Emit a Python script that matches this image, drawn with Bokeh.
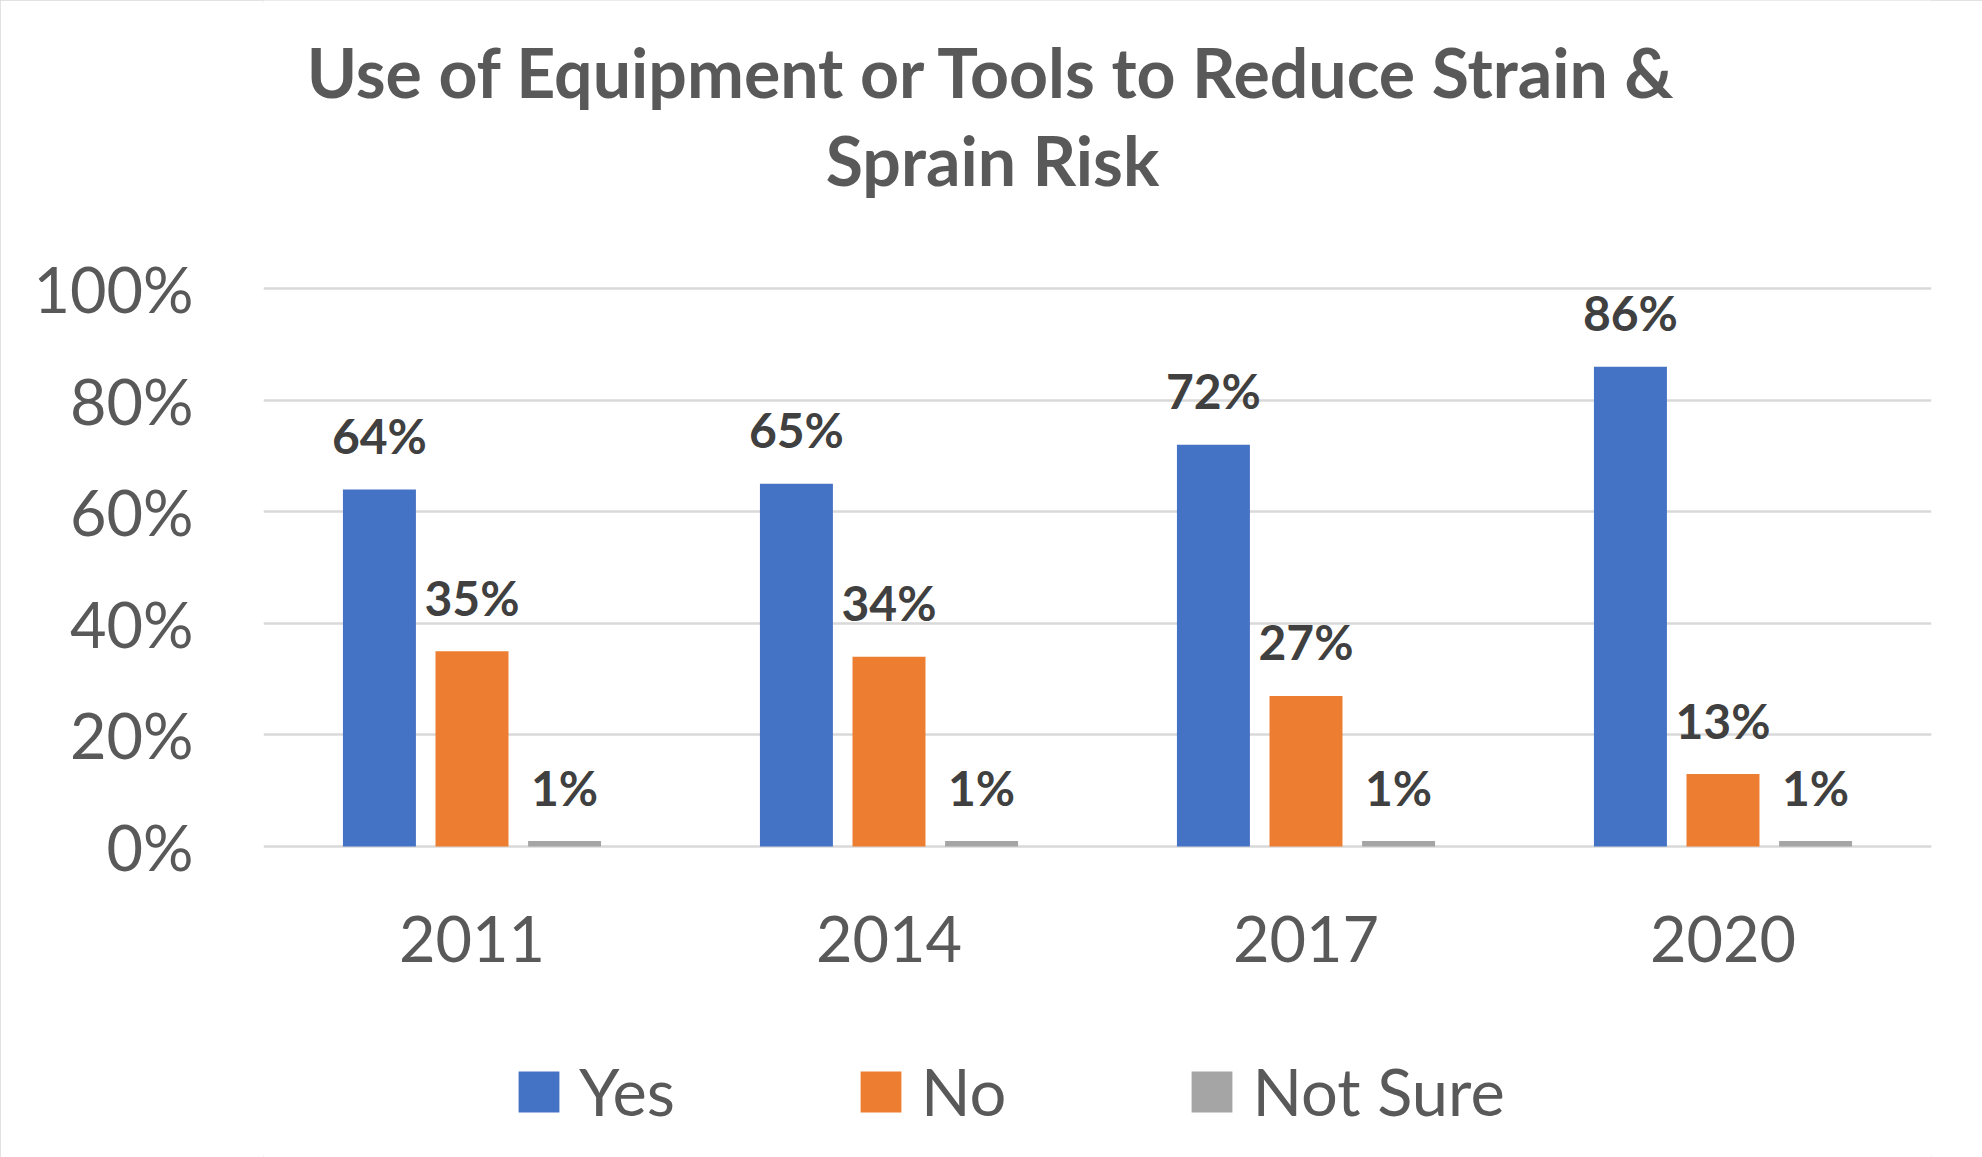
from bokeh.plotting import figure
from bokeh.models import (ColumnDataSource, FactorRange, Range1d, FixedTicker,
                          NumeralTickFormatter, Legend, LegendItem, Label)
from bokeh.transform import dodge
from bokeh.core.properties import value
from bokeh.embed import file_html
from bokeh.resources import INLINE

# ---- data ----
years = ["2011", "2014", "2017", "2020"]
yes_pct = [64, 65, 72, 86]
no_pct = [35, 34, 27, 13]
not_sure_pct = [1, 1, 1, 1]
series_names = ["Yes", "No", "Not Sure"]
series_colors = ["#4472C4", "#ED7D31", "#A5A5A5"]
y_ticks = [0, 0.2, 0.4, 0.6, 0.8, 1.0]
title_lines = ["Use of Equipment or Tools to Reduce Strain &", "Sprain Risk"]

FONT = "Lato"
TEXT = "#595959"
LABEL = "#404040"

src = ColumnDataSource(dict(
    year=years,
    yes=[v / 100 for v in yes_pct],
    no=[v / 100 for v in no_pct],
    ns=[v / 100 for v in not_sure_pct],
    yes_lbl=[f"{v}%" for v in yes_pct],
    no_lbl=[f"{v}%" for v in no_pct],
    ns_lbl=[f"{v}%" for v in not_sure_pct],
))

p = figure(width=1982, height=1157, x_range=FactorRange(*years, range_padding=0),
           y_range=Range1d(-0.557, 1.516), output_backend="svg", toolbar_location=None,
           min_border_left=263, min_border_right=51, min_border_top=0,
           min_border_bottom=0,
           styles={"outline": "3px solid #D9D9D9", "outline-offset": "-3px"})
p.outline_line_color = None
p.background_fill_color = "white"
p.border_fill_color = "white"

offsets = [-0.222, 0.0, 0.222]
cols = ["yes", "no", "ns"]
renderers = []
for off, col, color, name in zip(offsets, cols, series_colors, series_names):
    r = p.vbar(x=dodge("year", off, range=p.x_range), top=col, width=0.175,
               source=src, fill_color=color, line_color=None)
    renderers.append(r)
    p.text(x=dodge("year", off, range=p.x_range), y=col, text=col + "_lbl",
           source=src, text_align="center", text_baseline="alphabetic",
           y_offset=-54, text_font=value(FONT), text_font_style="bold",
           text_font_size="48px", text_color=LABEL)

# axes
p.yaxis.ticker = FixedTicker(ticks=y_ticks)
p.yaxis.formatter = NumeralTickFormatter(format="0%")
p.xaxis.fixed_location = 0
for ax in (p.xaxis, p.yaxis):
    ax.axis_line_color = None
    ax.major_tick_line_color = None
    ax.minor_tick_line_color = None
    ax.major_label_text_font = FONT
    ax.major_label_text_font_size = "63px"
    ax.major_label_text_color = TEXT
p.yaxis.major_label_standoff = 64
p.xaxis.major_label_standoff = 63
p.xgrid.grid_line_color = None
p.ygrid.grid_line_color = "#D9D9D9"
p.ygrid.grid_line_width = 2.5

# title
ys = [1086, 998]
for t, yy in zip(title_lines, ys):
    p.add_layout(Label(x=729, y=yy, x_units="screen", y_units="screen", text=t,
                       text_align="center", text_baseline="alphabetic",
                       text_font=FONT, text_font_style="bold",
                       text_font_size="68px", text_color=TEXT))

legend = Legend(items=[LegendItem(label=n, renderers=[r]) for n, r in zip(series_names, renderers)],
                orientation="horizontal", location=(250, 27),
                glyph_width=51, glyph_height=51, label_standoff=15, spacing=180,
                border_line_color=None, background_fill_alpha=0, padding=0, margin=0,
                label_text_font=FONT, label_text_font_size="65px", label_text_color=TEXT)
p.add_layout(legend)

open("out.html", "w").write(file_html(p, INLINE))
